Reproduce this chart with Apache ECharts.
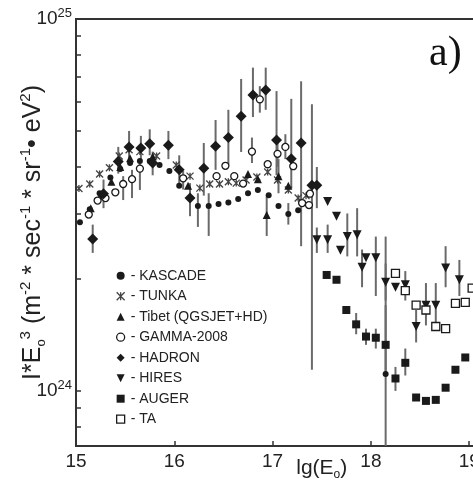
<!DOCTYPE html>
<html><head><meta charset="utf-8">
<script src="https://cdn.jsdelivr.net/npm/echarts@6/dist/echarts.min.js"></script>
<style>html,body{margin:0;padding:0;background:#fff}#c{width:473px;height:486px}</style>
</head><body><div id="c"></div>
<script>
// x = lg(E0); y = I*E0^3 in units of 1e24 m^-2 s^-1 sr^-1 eV^2
const xTickValues = [15, 16, 17, 18, 19, 20];
const yLabelValues = [1, 10];            // 10^24, 10^25
const yLabelExp = ['24', '25'];
const yTickValues = [0.8, 0.9, 1, 2, 3, 4, 5, 6, 7, 8, 9, 10];
const Y_MIN = 0.711, Y_MAX = 10;

const seriesNames = ['KASCADE', 'TUNKA', 'Tibet (QGSJET+HD)', 'GAMMA-2008', 'HADRON', 'HIRES', 'AUGER', 'TA'];

const kascade = [[15.04,2.84],[15.14,3.08],[15.24,3.40],[15.35,3.75],[15.45,3.95],[15.55,4.10],[15.65,4.15],[15.75,4.15],[15.85,4.05],[15.95,3.90],[16.05,3.56],[16.24,3.14],[16.35,3.14],[16.45,3.18],[16.55,3.21],[16.65,3.28],[16.75,3.40],[16.85,3.47],[16.96,3.36],[17.06,3.14],[17.16,2.99],[17.26,3.06],[18.15,1.11]];
const kascadeErr = [[16.24,2.76,3.40],[16.35,2.61,3.40],[17.16,2.80,3.20],[18.15,0.5,2.6]];

const tunka = [[15.03,3.50],[15.14,3.60],[15.24,3.83],[15.34,3.98],[15.44,4.28],[15.54,4.45],[15.65,4.40],[15.82,4.28],[16.02,4.05],[16.16,3.78],[16.26,3.51],[16.36,3.60],[16.46,3.60],[16.55,3.65],[16.63,3.62],[16.73,3.69],[16.84,3.76],[16.95,3.88],[17.05,3.69],[17.16,3.47],[17.26,3.30],[17.34,3.35]];
const tunkaErr = [];

const tibet = [[15.15,3.10],[15.25,3.35],[15.36,3.65],[15.45,4.00],[15.55,4.22],[15.78,4.27],[16.14,3.56],[16.75,3.83],[16.85,3.71],[16.94,2.97],[17.06,3.78],[17.16,3.56]];
const tibetErr = [[16.94,2.61,3.33],[17.06,3.4,4.2]];

const gamma = [[15.13,2.98],[15.22,3.25],[15.30,3.30],[15.40,3.42],[15.48,3.60],[15.57,3.71],[15.65,3.96],[16.09,3.73],[16.43,3.78],[16.52,4.03],[16.61,3.78],[16.70,3.61],[16.79,4.40],[16.87,6.08],[16.95,4.07],[17.05,4.34],[17.13,4.53],[17.21,4.02],[17.30,3.20],[17.37,3.16],[17.38,3.39]];
const gammaErr = [[15.48,3.26,3.78],[15.57,3.30,3.93],[15.65,3.47,4.10],[16.09,3.48,3.90],[16.79,4.10,4.80],[16.87,5.60,6.60],[17.05,4.00,4.80],[17.13,4.20,4.90]];

const hadron = [[15.17,2.56],[15.28,3.39],[15.43,4.14],[15.54,4.53],[15.66,4.50],[15.75,4.62],[15.78,4.10],[15.94,4.58],[16.05,3.93],[16.16,3.30],[16.30,3.97],[16.42,4.55],[16.55,4.80],[16.68,5.48],[16.80,6.25],[16.93,6.44],[17.04,4.73],[17.19,4.21],[17.29,4.64],[17.40,3.57],[17.45,3.57]];
const hadronErr = [[15.17,2.35,2.80],[15.28,3.10,3.70],[15.43,3.84,4.53],[15.54,4.18,5.00],[15.66,4.18,4.85],[15.75,4.30,5.05],[15.78,3.80,4.40],[15.94,4.20,5.00],[16.05,3.60,4.30],[16.16,2.95,3.62],[16.30,3.35,4.64],[16.42,3.93,5.35],[16.55,4.07,5.70],[16.68,4.39,6.90],[16.80,5.45,7.40],[16.93,5.70,7.40],[17.04,3.80,6.40],[17.19,3.50,6.10],[17.29,2.45,6.80],[17.40,1.14,5.90],[17.45,3.10,4.00]];

const hires = [[17.45,2.55],[17.56,2.55],[17.56,3.23],[17.65,2.95],[17.69,2.39],[17.76,2.60],[17.86,2.63],[17.91,2.15],[17.95,2.28],[18.05,2.28],[18.15,1.96],[18.25,1.90],[18.35,1.93],[18.46,1.49],[18.56,1.70],[18.66,1.70],[18.76,2.14],[18.90,1.99]];
const hiresErr = [[17.45,2.35,2.75],[17.56,2.35,2.80],[17.76,2.30,3.00],[17.86,2.30,3.10],[17.91,1.90,2.40],[18.05,1.80,2.60],[18.15,1.75,2.20],[18.35,1.75,2.10],[18.46,1.35,1.65],[18.56,1.50,1.95],[18.66,1.50,1.95],[18.76,1.90,2.45],[18.90,1.80,2.25]];

const auger = [[17.55,2.05],[17.65,1.99],[17.75,1.65],[17.85,1.51],[17.95,1.40],[18.05,1.39],[18.15,1.33],[18.25,1.08],[18.35,1.19],[18.46,0.96],[18.56,0.94],[18.66,0.946],[18.76,1.02],[18.86,1.14],[18.96,1.23]];
const augerErr = [[17.85,1.42,1.62],[17.95,1.33,1.47],[18.05,1.30,1.47],[18.15,1.10,1.70],[18.25,1.00,1.16],[18.35,1.10,1.30]];

const ta = [[18.25,2.07],[18.35,1.86],[18.46,1.70],[18.56,1.65],[18.66,1.49],[18.76,1.47],[18.86,1.72],[18.96,1.73],[19.03,1.89]];
const taErr = [];

const FONT = 'Liberation Sans, Arial, sans-serif';
const INK = '#1a1a1a';
const styles = [
  {data: kascade, symbol: 'circle', size: 6, fill: INK},
  {data: tunka, symbol: 'path://M0,0L10,10M10,0L0,10M5,0L5,10', size: 7, fill: '#444', stroke: '#444', bw: 1.3},
  {data: tibet, symbol: 'triangle', size: 8, fill: INK},
  {data: gamma, symbol: 'circle', size: 7, fill: '#fff', stroke: INK, bw: 1.3},
  {data: hadron, symbol: 'diamond', size: 11, fill: INK},
  {data: hires, symbol: 'path://M0,0L10,0L5,10Z', size: 9, fill: INK},
  {data: auger, symbol: 'rect', size: 8, fill: INK},
  {data: ta, symbol: 'rect', size: 8, fill: '#fff', stroke: INK, bw: 1.3}
];
const errAll = [].concat(kascadeErr, tunkaErr, tibetErr, gammaErr, hadronErr, hiresErr, augerErr, taErr);

const series = [{
  type: 'custom', name: 'err', silent: true, z: 1,
  data: errAll, encode: {x: 0, y: [1, 2]},
  renderItem: function (params, api) {
    const x = api.value(0);
    const lo = Math.max(api.value(1), Y_MIN), hi = Math.min(api.value(2), Y_MAX);
    const p1 = api.coord([x, lo]), p2 = api.coord([x, hi]);
    return {type: 'line', shape: {x1: p1[0], y1: p1[1], x2: p2[0], y2: p2[1]},
      style: {stroke: '#6a6a6a', lineWidth: 2}};
  }
}];
seriesNames.forEach(function (n, i) {
  const s = styles[i];
  series.push({
    type: 'scatter', name: n, data: s.data, symbol: s.symbol, symbolSize: s.size, z: 3,
    itemStyle: {color: s.fill, borderColor: s.stroke || s.fill, borderWidth: s.bw || 0, opacity: 1}
  });
});

const legendData = seriesNames.map(function (n, i) {
  const s = styles[i];
  return {name: n, icon: s.symbol,
    itemStyle: {color: s.fill, borderColor: s.stroke || s.fill, borderWidth: s.bw || 0}};
});

const chart = echarts.init(document.getElementById('c'), null, {renderer: 'canvas'});
chart.setOption({
  animation: false,
  backgroundColor: '#fff',
  title: {text: 'a)', left: 424, top: 28, textStyle: {fontFamily: 'Liberation Serif, serif', fontSize: 42, fontWeight: 'normal', color: '#111'}},
  grid: {left: 76, top: 19, width: 491.5, height: 427, show: true, borderColor: '#333', borderWidth: 2, outerBoundsMode: 'none', containLabel: false},
  legend: {
    orient: 'vertical', left: 111, top: 262.7, itemWidth: 8, itemHeight: 8, itemGap: 4.5,
    selectedMode: false, data: legendData,
    formatter: function (n) { return '- ' + n; },
    textStyle: {fontFamily: FONT, fontSize: 14, color: '#222', lineHeight: 16, padding: [0, 0, 0, 1]}
  },
  xAxis: {
    type: 'value', min: 15, max: 20, interval: 1,
    name: '{a|lg(E}{s|o}{a|)}', nameLocation: 'middle', nameGap: 9, nameMoveOverlap: false,
    nameTextStyle: {rich: {a: {fontFamily: FONT, fontSize: 21, color: '#222', lineHeight: 26}, s: {fontFamily: FONT, fontSize: 12, color: '#222', verticalAlign: 'bottom', lineHeight: 12}}},
    axisLine: {lineStyle: {color: '#333', width: 2}},
    axisTick: {inside: true, length: 5, lineStyle: {color: '#333', width: 1.5}, customValues: xTickValues},
    axisLabel: {fontFamily: FONT, fontSize: 19, color: '#222', margin: 6, customValues: xTickValues},
    splitLine: {show: false}
  },
  yAxis: {
    type: 'log', logBase: 10, min: Y_MIN, max: Y_MAX,
    name: '{n|I*E}{sub|o}{sup|3}{n| (m}{sup|-2}{n| * sec}{sup|-1}{n| * sr}{sup|-1}{n|• eV}{sup|2}{n|)}',
    nameLocation: 'middle', nameRotate: 90, nameGap: 28, nameMoveOverlap: false,
    nameTextStyle: {rich: {
      n: {fontFamily: FONT, fontSize: 25, color: '#222', lineHeight: 30},
      sup: {fontFamily: FONT, fontSize: 15, color: '#222', verticalAlign: 'top', lineHeight: 15},
      sub: {fontFamily: FONT, fontSize: 13, color: '#222', verticalAlign: 'bottom', lineHeight: 13}
    }},
    axisLine: {lineStyle: {color: '#333', width: 2}},
    axisTick: {inside: true, length: 5, lineStyle: {color: '#333', width: 1.5}, customValues: yTickValues},
    axisLabel: {
      customValues: yLabelValues, margin: 4,
      formatter: function (v) {
        const i = yLabelValues.findIndex(function (t) { return Math.abs(t - v) < 1e-9; });
        return i < 0 ? '' : '{b|10}{s|' + yLabelExp[i] + '}';
      },
      rich: {
        b: {fontFamily: FONT, fontSize: 19, color: '#222', lineHeight: 24},
        s: {fontFamily: FONT, fontSize: 13, color: '#222', verticalAlign: 'top', lineHeight: 13}
      }
    },
    splitLine: {show: false}, minorSplitLine: {show: false}
  },
  series: series
});
</script></body></html>
